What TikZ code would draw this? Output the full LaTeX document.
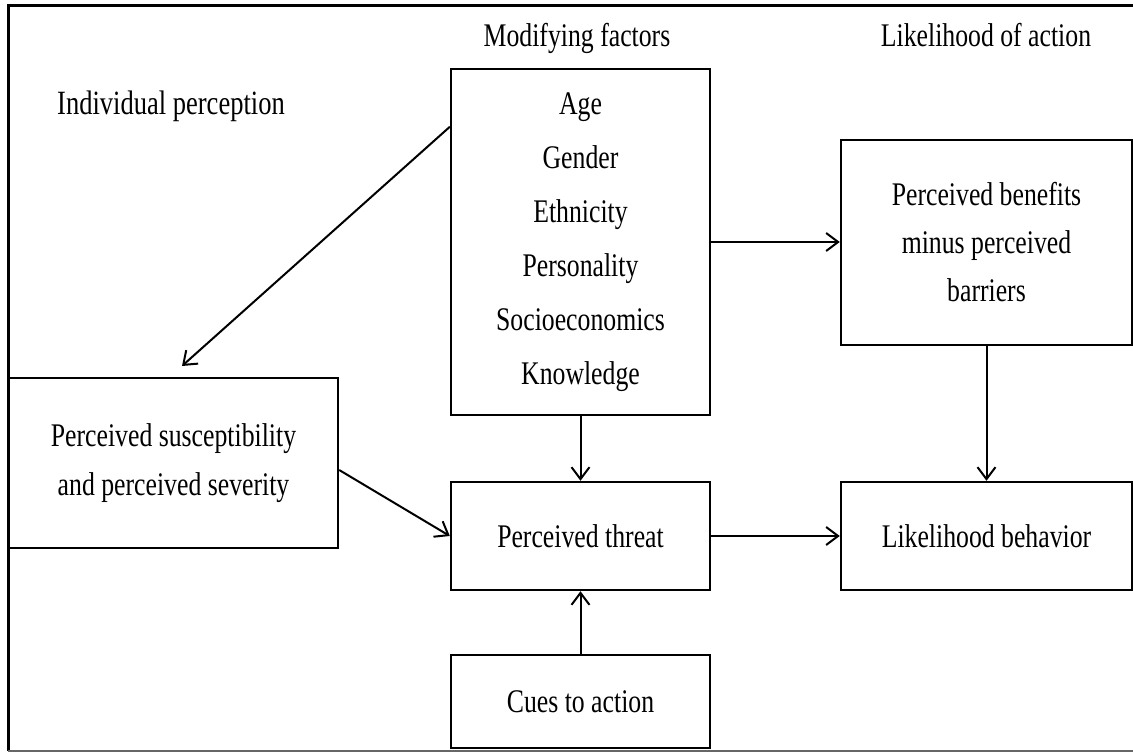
\documentclass[tikz,border=0pt]{standalone}
\usepackage{fontspec}
\setmainfont[FakeStretch=0.78]{Liberation Serif}
\usetikzlibrary{arrows.meta,calc}
\begin{document}
\begin{tikzpicture}[x=1pt,y=-1pt,
  box/.style={draw, line width=2.4pt, rectangle, inner sep=0pt, align=center, font=\fontsize{33}{49}\selectfont},
  lbl/.style={anchor=base, inner sep=0pt, font=\fontsize{33}{38}\selectfont},
  arr/.style={line width=2pt, -{Straight Barb[length=12pt,width=18pt,line width=2pt]}}]
\useasboundingbox (0,0) rectangle (1133,754);
% outer frame
\draw[line width=3pt] (1140,6) -- (8,6) -- (8,751);
\draw[line width=1.5pt, black!60] (8,751) -- (1140,751);
% column labels
\node[lbl, font=\fontsize{34}{38}\selectfont] (lip) at (171,115) {Individual perception};
\node[lbl] (lmf) at (577,47) {Modifying factors};
\node[lbl] (lla) at (986,47) {Likelihood of action};
% boxes
\node[box, minimum width=259pt, minimum height=346pt, font=\fontsize{33}{54}\selectfont] (mod) at (580.5,242)
  {Age\\Gender\\Ethnicity\\Personality\\Socioeconomics\\Knowledge};
\node[box, minimum width=291pt, minimum height=205pt, font=\fontsize{33}{48}\selectfont] (ben) at (986.5,242.5)
  {Perceived benefits\\minus perceived\\barriers};
\node[box, minimum width=329pt, minimum height=170pt] (sus) at (173.5,463)
  {Perceived susceptibility\\and perceived severity};
\node[box, minimum width=259pt, minimum height=108pt] (thr) at (580.5,536) {Perceived threat};
\node[box, minimum width=291pt, minimum height=108pt] (beh) at (986.5,536) {Likelihood behavior};
\node[box, minimum width=259pt, minimum height=93pt] (cue) at (580.5,701.5) {Cues to action};
% connectors
\coordinate (tipA) at (182,366);
\draw[arr] ($(mod.north west)+(0,59)$) -- (tipA);
\draw[arr] ($(sus.east)+(0,7)$) -- (thr.west);
\draw[arr] (mod.south) -- (thr.north);
\draw[arr] (cue.north) -- (thr.south);
\draw[arr] (thr.east) -- (beh.west);
\draw[arr] (mod.east) -- (mod.east -| ben.west);
\draw[arr] (ben.south) -- (beh.north);
\end{tikzpicture}
\end{document}
